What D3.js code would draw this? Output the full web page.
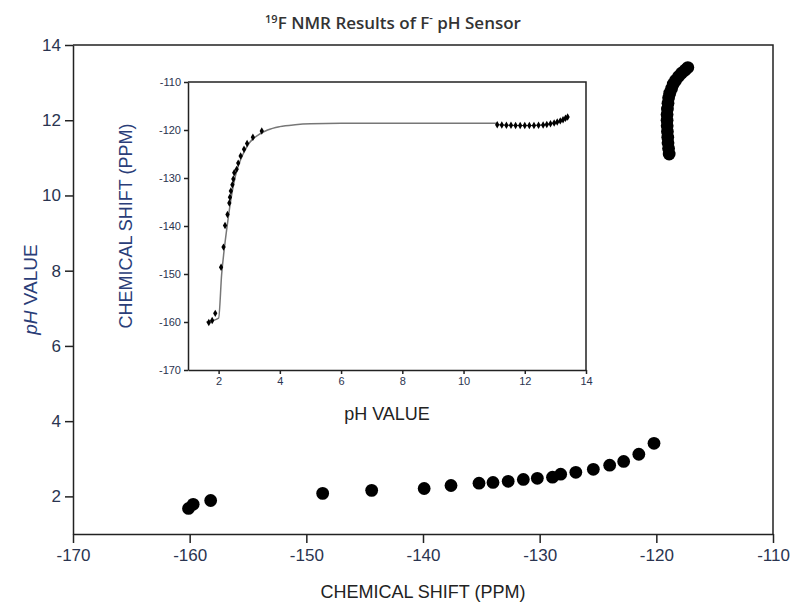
<!DOCTYPE html>
<html lang="en">
<head>
  <meta charset="UTF-8">
  <title>19F NMR Results of F- pH Sensor</title>
  <script src="https://cdn.jsdelivr.net/npm/d3@7/dist/d3.min.js"></script>
  <style>
    * { margin: 0; padding: 0; }
    body { background: #fff; }
    svg { display: block; font-family: "Liberation Sans", Arial, sans-serif; }
    .axis path, .axis line { stroke: #222; stroke-width: 1.5; }
    .axis text { fill: #2a3450; }
  </style>
</head>
<body>
  <div id="chart"></div>
  <script>
  // chemical shift (ppm) and pH for every titration point
  var shiftValues = [-160.1, -159.7, -158.2, -148.6, -144.4, -139.9, -137.6, -135.2, -134.0, -132.7,
                     -131.4, -130.2, -128.9, -128.2, -126.9, -125.4, -124.0, -122.8, -121.5, -120.2,
                     -118.90, -118.95, -119.00, -119.02, -119.05, -119.07, -119.08, -119.08, -119.05, -119.00,
                     -118.95, -118.85, -118.70, -118.55, -118.35, -118.10, -117.85, -117.55, -117.30];
  var phValues = [1.68, 1.79, 1.89, 2.08, 2.16, 2.21, 2.29, 2.35, 2.37, 2.40,
                  2.45, 2.48, 2.51, 2.59, 2.64, 2.72, 2.83, 2.93, 3.12, 3.41,
                  11.10, 11.25, 11.40, 11.55, 11.70, 11.85, 12.00, 12.15, 12.30, 12.45,
                  12.60, 12.72, 12.84, 12.96, 13.06, 13.16, 13.25, 13.33, 13.40];
  // fitted curve of the inset
  var fitPh = [1.6, 2.0, 2.1, 2.2, 2.3, 2.4, 2.5, 2.6, 2.8, 3.0, 3.3, 3.6, 4.0, 4.5, 5.0, 6.0, 11.1];
  var fitShift = [-160, -159.2, -150, -144, -139, -134.5, -131, -128.3, -125, -122.7, -121, -120, -119.3, -118.9, -118.7, -118.6, -118.6];

  var mainXTicks = [-170, -160, -150, -140, -130, -120, -110];
  var mainYTicks = [2, 4, 6, 8, 10, 12, 14];
  var insetXTicks = [2, 4, 6, 8, 10, 12, 14];
  var insetYTicks = [-170, -160, -150, -140, -130, -120, -110];

  var points = shiftValues.map(function (s, i) { return { shift: s, ph: phValues[i] }; });
  var fit = fitPh.map(function (p, i) { return { ph: p, shift: fitShift[i] }; });
  // plain hyphen minus like the original
  var fmt = function (d) { return String(d); };

  var width = 797, height = 607;
  var svg = d3.select("#chart").append("svg")
      .attr("width", width)
      .attr("height", height);

  // main plot
  var x = d3.scaleLinear().domain([-170, -110]).range([73, 773]);
  var y = d3.scaleLinear().domain([1, 14]).range([534, 45]);

  svg.append("g")
      .attr("class", "axis")
      .attr("transform", "translate(0," + y(1) + ")")
      .call(d3.axisBottom(x).tickValues(mainXTicks).tickFormat(fmt).tickSize(9).tickSizeOuter(0).tickPadding(6))
      .selectAll("text").style("font-size", "17px");
  svg.append("g")
      .attr("class", "axis")
      .attr("transform", "translate(" + x(-170) + ",0)")
      .call(d3.axisLeft(y).tickValues(mainYTicks).tickFormat(fmt).tickSize(8).tickSizeOuter(0).tickPadding(4))
      .selectAll("text").style("font-size", "17px");
  // top / right frame
  svg.append("path")
      .attr("d", "M" + x(-170) + "," + y(14) + "H" + x(-110) + "V" + y(1))
      .attr("fill", "none").attr("stroke", "#222").attr("stroke-width", 1.5);

  svg.selectAll(".dot")
      .data(points)
      .enter()
      .append("circle")
        .attr("class", "dot")
        .attr("cx", function (d) { return x(d.shift); })
        .attr("cy", function (d) { return y(d.ph); })
        .attr("r", 6.4)
        .attr("fill", "#000");

  svg.append("text")
      .attr("x", (x(-170) + x(-110)) / 2)
      .attr("y", 598)
      .attr("text-anchor", "middle")
      .style("font-size", "18px")
      .attr("fill", "#222")
      .text("CHEMICAL SHIFT (PPM)");
  var yl = svg.append("text")
      .attr("transform", "translate(37," + (y(1) + y(14)) / 2 + ") rotate(-90)")
      .attr("text-anchor", "middle")
      .style("font-size", "19px")
      .attr("fill", "#2a3d78");
  yl.append("tspan").style("font-style", "italic").text("pH");
  yl.append("tspan").text(" VALUE");

  // title
  var title = svg.append("text")
      .attr("x", 393)
      .attr("y", 29)
      .attr("text-anchor", "middle")
      .style("font-family", "'Open Sans', sans-serif")
      .style("font-size", "17px")
      .style("font-weight", "600")
      .attr("fill", "#333");
  title.append("tspan").attr("dy", "-6").style("font-size", "11px").text("19");
  title.append("tspan").attr("dy", "6").text("F NMR Results of F");
  title.append("tspan").attr("dy", "-7").style("font-size", "11px").text("-");
  title.append("tspan").attr("dy", "7").text(" pH Sensor");

  // inset
  var ix = d3.scaleLinear().domain([1, 14]).range([188, 586]);
  var iy = d3.scaleLinear().domain([-170, -110]).range([370, 82]);

  svg.append("rect")
      .attr("x", ix(1)).attr("y", iy(-110))
      .attr("width", ix(14) - ix(1)).attr("height", iy(-170) - iy(-110))
      .attr("fill", "#fff");

  svg.append("g")
      .attr("class", "axis")
      .attr("transform", "translate(0," + iy(-170) + ")")
      .call(d3.axisBottom(ix).tickValues(insetXTicks).tickFormat(fmt).tickSize(4).tickSizeOuter(0).tickPadding(3))
      .selectAll("text").style("font-size", "11px");
  svg.append("g")
      .attr("class", "axis")
      .attr("transform", "translate(" + ix(1) + ",0)")
      .call(d3.axisLeft(iy).tickValues(insetYTicks).tickFormat(fmt).tickSize(4).tickSizeOuter(0).tickPadding(3))
      .selectAll("text").style("font-size", "11px");
  svg.append("path")
      .attr("d", "M" + ix(1) + "," + iy(-110) + "H" + ix(14) + "V" + iy(-170))
      .attr("fill", "none").attr("stroke", "#222").attr("stroke-width", 1.5);

  var line = d3.line()
      .x(function (d) { return ix(d.ph); })
      .y(function (d) { return iy(d.shift); })
      .curve(d3.curveMonotoneX);
  svg.append("path")
      .datum(fit)
      .attr("d", line)
      .attr("fill", "none")
      .attr("stroke", "#777")
      .attr("stroke-width", 1.5);
  svg.append("path")
      .datum(points.filter(function (d) { return d.ph > 11; }))
      .attr("d", line)
      .attr("fill", "none")
      .attr("stroke", "#333")
      .attr("stroke-width", 1);

  svg.selectAll(".idot")
      .data(points)
      .enter()
      .append("path")
        .attr("class", "idot")
        .attr("transform", function (d) { return "translate(" + ix(d.ph) + "," + iy(d.shift) + ")"; })
        .attr("d", d3.symbol().type(d3.symbolDiamond).size(16))
        .attr("fill", "#000");

  svg.append("text")
      .attr("x", (ix(1) + ix(14)) / 2)
      .attr("y", 420)
      .attr("text-anchor", "middle")
      .style("font-size", "18px")
      .attr("fill", "#222")
      .text("pH VALUE");
  svg.append("text")
      .attr("transform", "translate(132," + (iy(-170) + iy(-110)) / 2 + ") rotate(-90)")
      .attr("text-anchor", "middle")
      .style("font-size", "18px")
      .attr("fill", "#2a3d78")
      .text("CHEMICAL SHIFT (PPM)");
  </script>
</body>
</html>
